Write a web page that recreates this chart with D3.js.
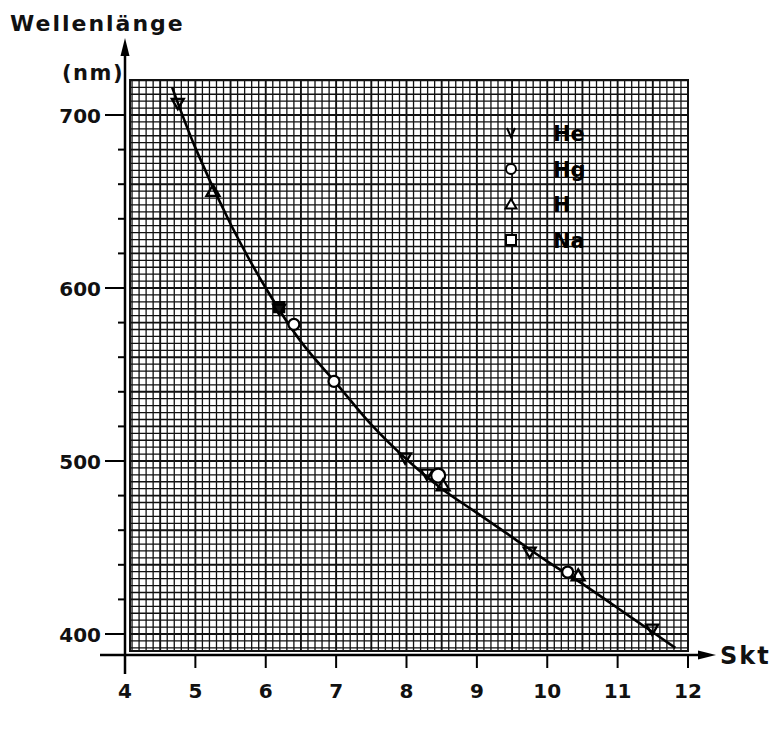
<!DOCTYPE html>
<html><head><meta charset="utf-8">
<script src="https://cdn.jsdelivr.net/npm/d3@7/dist/d3.min.js"></script>
<style>
html,body{margin:0;padding:0;background:#fff;}
text{font-family:"DejaVu Sans",sans-serif;font-weight:bold;fill:#111;}
</style></head>
<body>
<svg id="chart" width="776" height="729"></svg>
<script>
// ---- data ----
const xTicks = [4,5,6,7,8,9,10,11,12];
const yTicks = [400,500,600,700];
const yMinorTicks = [420,440,460,480,520,540,560,580,620,640,660,680];
// drawn calibration curve (Skt, nm)
const curveX = [4.67,5.0,5.5,6.0,6.5,7.0,7.5,8.0,8.5,9.0,9.5,10.0,10.5,11.0,11.5,11.82];
const curveY = [716,681,637,600,569,545,521,501,484,470,456,442,429,415,401,392];
// spectral lines
const heX = [4.75,6.19,7.98,8.29,9.75,11.49];
const heY = [706.5,587.6,501.6,492.2,447.1,402.6];
const hgX = [6.40,6.97,8.45,10.29];
const hgY = [579,546,491.6,435.8];
const hX = [5.25,8.52,10.44];
const hY = [656.3,486.1,434.0];
const naX = [6.19];
const naY = [589];
const legendLabels = ["He","Hg","H","Na"];

const svg = d3.select("#chart");
const x = d3.scaleLinear().domain([4,12]).range([125,688]);
const y = d3.scaleLinear().domain([400,700]).range([634,115]);
const axisY = 655;
const axisX = x(4);

// ---- graph paper grid ----
const g = svg.append("g");
const gx0 = 130, gx1 = x(12), gy0 = 80, gy1 = 651;
const grid = g.append("g");
const vStep = (x(4.1)-x(4));
let i=0;
for (let px = x(12); px >= gx0-0.1; px -= vStep, i++) {
  grid.append("line").attr("x1",px).attr("x2",px).attr("y1",gy0).attr("y2",gy1)
    .attr("stroke", "#111").attr("stroke-width", i%5===0 ? 1.9 : 1.3);
}
const hStep = y(400)-y(404);
i=0;
for (let py = y(400); py >= gy0-0.1; py -= hStep, i++) {
  grid.append("line").attr("x1",gx0).attr("x2",gx1).attr("y1",py).attr("y2",py)
    .attr("stroke", "#111").attr("stroke-width", i%5===0 ? 1.9 : 1.3);
}
i=1;
for (let py = y(400)+hStep; py <= gy1+0.1; py += hStep, i++) {
  grid.append("line").attr("x1",gx0).attr("x2",gx1).attr("y1",py).attr("y2",py)
    .attr("stroke", "#111").attr("stroke-width", 1.3);
}
grid.append("rect").attr("x",gx0).attr("y",gy0).attr("width",gx1-gx0).attr("height",gy1-gy0)
  .attr("fill","none").attr("stroke","#111").attr("stroke-width",2);

// ---- axes ----
svg.append("line").attr("x1",axisX).attr("x2",axisX).attr("y1",52).attr("y2",674)
  .attr("stroke","#000").attr("stroke-width",2.5);
svg.append("path").attr("d",`M${axisX},38 L${axisX-4.5},56 L${axisX+4.5},56 Z`).attr("fill","#000");
svg.append("line").attr("x1",100).attr("x2",700).attr("y1",axisY).attr("y2",axisY)
  .attr("stroke","#000").attr("stroke-width",2.5);
svg.append("path").attr("d",`M716,${axisY} L698,${axisY-4.5} L698,${axisY+4.5} Z`).attr("fill","#000");

// x ticks
const xAx = svg.append("g");
xAx.selectAll("line").data(xTicks.filter(d=>d>4)).join("line")
  .attr("x1",d=>x(d)).attr("x2",d=>x(d)).attr("y1",axisY).attr("y2",axisY+13)
  .attr("stroke","#000").attr("stroke-width",2);
xAx.selectAll("text").data(xTicks).join("text")
  .attr("x",d=>x(d)).attr("y",698).attr("text-anchor","middle")
  .style("font-size","20px").text(d=>d);

// y ticks
const yAx = svg.append("g");
yAx.selectAll("line.maj").data(yTicks).join("line").attr("class","maj")
  .attr("x1",axisX-20).attr("x2",axisX).attr("y1",d=>y(d)).attr("y2",d=>y(d))
  .attr("stroke","#000").attr("stroke-width",2);
yAx.selectAll("line.min").data(yMinorTicks).join("line").attr("class","min")
  .attr("x1",axisX-7).attr("x2",axisX).attr("y1",d=>y(d)).attr("y2",d=>y(d))
  .attr("stroke","#000").attr("stroke-width",2);
yAx.selectAll("text").data(yTicks).join("text")
  .attr("x",axisX-24).attr("y",d=>y(d)+7.5).attr("text-anchor","end")
  .style("font-size","20px").text(d=>d);

// axis titles
svg.append("text").attr("x",10).attr("y",31).style("font-size","22px").style("letter-spacing","2px").text("Wellenlänge");
svg.append("text").attr("x",62).attr("y",80).style("font-size","21px").style("letter-spacing","1.5px").text("(nm)");
svg.append("text").attr("x",720).attr("y",664).style("font-size","24px").style("letter-spacing","2px").text("Skt");

// ---- curve ----
const curveData = curveX.map((d,k)=>[d,curveY[k]]);
svg.append("path").datum(curveData)
  .attr("d", d3.line().x(d=>x(d[0])).y(d=>y(d[1])).curve(d3.curveCatmullRom.alpha(0.5)))
  .attr("fill","none").attr("stroke","#000").attr("stroke-width",2.6);

// ---- markers ----
function triDown(cx,cy,s){return `M${cx-s},${cy-s*0.8} L${cx+s},${cy-s*0.8} L${cx},${cy+s*0.9} Z`;}
function triUp(cx,cy,s){return `M${cx-s},${cy+s*0.8} L${cx+s},${cy+s*0.8} L${cx},${cy-s*0.9} Z`;}
const mk = svg.append("g").attr("fill","none").attr("stroke","#000").attr("stroke-width",2.3);
mk.selectAll("path.na").data(naX.map((d,k)=>[d,naY[k]])).join("path").attr("class","na")
  .attr("d",d=>{const cx=x(d[0]),cy=y(d[1]);return `M${cx-5},${cy-5} h10 v10 h-10 Z`;})
  .attr("fill","#111");
mk.selectAll("path.he").data(heX.map((d,k)=>[d,heY[k]])).join("path").attr("class","he")
  .attr("d",d=>triDown(x(d[0]),y(d[1]),6));
mk.selectAll("circle.hg").data(hgX.map((d,k)=>[d,hgY[k]])).join("circle").attr("class","hg")
  .attr("cx",d=>x(d[0])).attr("cy",d=>y(d[1])).attr("r",(d,k)=>k===2?7:5.5).attr("fill","#fff");
mk.selectAll("path.h").data(hX.map((d,k)=>[d,hY[k]])).join("path").attr("class","h")
  .attr("d",d=>triUp(x(d[0]),y(d[1]),6.5));

// ---- legend ----
const lg = svg.append("g");
const rowsY = [133,169,204,240];
const symX = 511, labX = 553;
lg.append("path").attr("d",`M${symX-4},${rowsY[0]-5} L${symX},${rowsY[0]+4} L${symX+4},${rowsY[0]-5}`)
  .attr("fill","none").attr("stroke","#000").attr("stroke-width",2);
lg.append("circle").attr("cx",symX).attr("cy",rowsY[1]).attr("r",5).attr("fill","#fff").attr("stroke","#000").attr("stroke-width",2);
lg.append("path").attr("d",triUp(symX,rowsY[2],5.5)).attr("fill","#fff").attr("stroke","#000").attr("stroke-width",2);
lg.append("rect").attr("x",symX-5).attr("y",rowsY[3]-5).attr("width",10).attr("height",10).attr("fill","#fff").attr("stroke","#000").attr("stroke-width",2);
lg.selectAll("text").data(legendLabels).join("text")
  .attr("x",labX).attr("y",(d,k)=>rowsY[k]+8).style("font-size","21px").style("fill","#000").text(d=>d);
</script>
</body></html>
